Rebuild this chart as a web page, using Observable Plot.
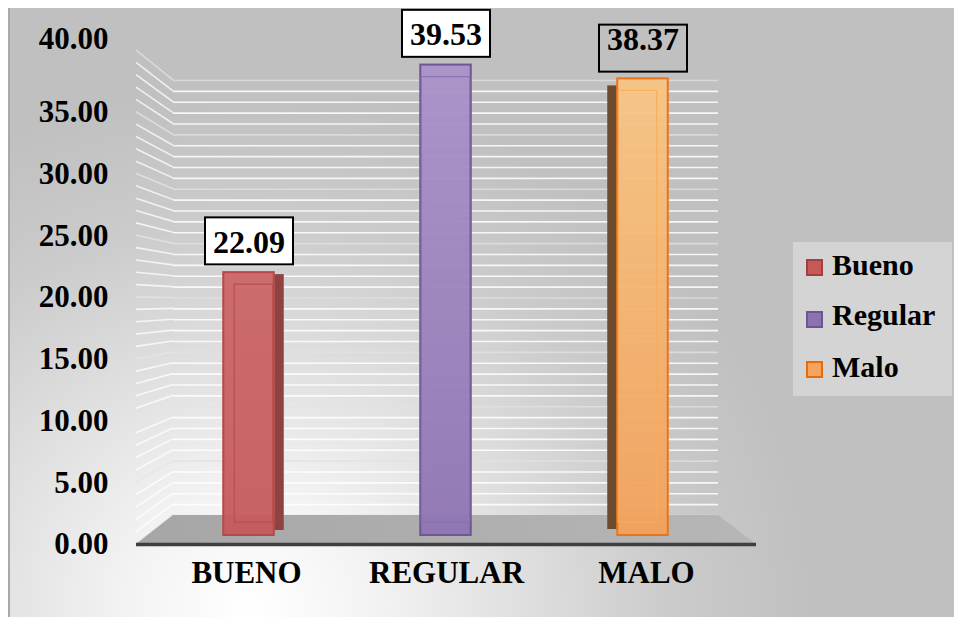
<!DOCTYPE html>
<html>
<head>
<meta charset="utf-8">
<script src="https://cdn.jsdelivr.net/npm/d3@7"></script>
<script src="https://cdn.jsdelivr.net/npm/@observablehq/plot@0.6"></script>
<style>
  body { margin: 0; background: #ffffff; }
  #chart { position: relative; width: 954px; height: 619px; overflow: hidden; font-family: "Liberation Serif", "Times New Roman", serif; }
  #bg { position: absolute; left: 8px; top: 8px; width: 946px; height: 609px; box-sizing: border-box; border-left: 2px solid #a9a9a9;
        background: radial-gradient(ellipse 560px 520px at 240px 600px, #ffffff 0%, #f3f3f3 22%, #dedede 50%, #cbcbcb 75%, #c0c0c0 100%); }
  .layer { position: absolute; left: 0; top: 0; }
  #legend { position: absolute; left: 793px; top: 242px; width: 159px; height: 154px; background: #d4d4d4; }
  .sw { position: absolute; left: 13px; width: 13px; height: 13px; border: 2px solid; }
  .lt { position: absolute; left: 39px; font-size: 30px; line-height: 30px; font-weight: bold; color: #000; white-space: nowrap; }
</style>
</head>
<body>
<div id="chart">
  <div id="bg"></div>
  <div id="legend"></div>
</div>
<script>
// ---- data ----
const categories = ["BUENO", "REGULAR", "MALO"];
const seriesNames = ["Bueno", "Regular", "Malo"];
const values = [22.09, 39.53, 38.37];
const yTicks = [0, 5, 10, 15, 20, 25, 30, 35, 40];
const gridValues = d3.range(0, 41, 1);

// ---- styles ----
const W = 954, H = 619;
const font = "Liberation Serif, Times New Roman, serif";
const topFill = {Bueno: "#cb6665", Regular: "#a992c9", Malo: "#f7c584"};
const botFill = {Bueno: "#c55a5a", Regular: "#8e74b3", Malo: "#f2a15b"};
const edge = {Bueno: "#b5494a", Regular: "#6e5794", Malo: "#ec7418"};
const inner = {Bueno: "#b54e4e", Regular: "#8a70ad", Malo: "#f9ab55"};
const sideFill = {Bueno: "#8e4242", Malo: "#6c4b2e"};
const depth = {Bueno: 10, Regular: 0, Malo: -10};
const legendFill = {Bueno: "#c65a59", Regular: "#8d72b1", Malo: "#f5a35f"};
const legendEdge = {Bueno: "#a43f3e", Regular: "#6c568f", Malo: "#e46c0a"};

const barData = categories.map((c, i) => ({category: c, name: seriesNames[i], value: values[i]}));
const chart = document.getElementById("chart");
const legendEl = document.getElementById("legend");

// ---- back wall (minor gridlines) ----
const wall = Plot.plot({
  width: W, height: H,
  marginLeft: 173, marginRight: W - 718, marginTop: 80, marginBottom: H - 515,
  y: {domain: [0, 40], axis: null},
  style: {background: "transparent", overflow: "visible"},
  marks: [
    Plot.ruleY(gridValues.filter(v => v % 5 !== 0), {stroke: "#ffffff", strokeOpacity: 0.85, strokeWidth: 1.6}),
    Plot.ruleY(yTicks, {stroke: "#e2e2e2", strokeOpacity: 0.75, strokeWidth: 1.6})
  ]
});
wall.classList.add("layer");
chart.insertBefore(wall, legendEl);

// ---- front plane (axis labels, baseline) ----
const front = Plot.plot({
  width: W, height: H,
  marginLeft: 136, marginRight: W - 756, marginTop: 50, marginBottom: H - 544,
  x: {type: "band", domain: categories, axis: null},
  y: {domain: [0, 40], axis: null},
  style: {background: "transparent", overflow: "visible"},
  marks: [
    Plot.text(yTicks.filter(v => v < 40), {y: d => d, text: d => d.toFixed(2), frameAnchor: "left", textAnchor: "end", dx: -28,
      fontSize: 31, fontWeight: "bold", fontFamily: font, fill: "#000"}),
    Plot.text(yTicks.filter(v => v === 40), {y: d => d, text: d => d.toFixed(2), frameAnchor: "left", textAnchor: "end", dx: -28, dy: -11,
      fontSize: 31, fontWeight: "bold", fontFamily: font, fill: "#000"}),
    Plot.text(categories, {x: d => d, text: d => d, frameAnchor: "bottom", dy: 38,
      fontSize: 31, fontWeight: "bold", fontFamily: font, fill: "#000"}),
    Plot.ruleY([0], {stroke: "#3f3f3f", strokeWidth: 3.5})
  ]
});

// side wall lines + floor, drawn in the wall layer from both scales
{
  const yF = front.scale("y"), yB = wall.scale("y"), xF = front.scale("x");
  const xF0 = xF.range[0], xF1 = xF.range[1];
  const xB0 = 173, xB1 = 718;
  const g = d3.select(wall).append("g");
  const defs = d3.select(wall).append("defs");
  const fg = defs.append("linearGradient").attr("id", "floorGrad").attr("x1", 0).attr("x2", 1);
  fg.append("stop").attr("offset", 0).attr("stop-color", "#a6a6a6");
  fg.append("stop").attr("offset", 1).attr("stop-color", "#b6b6b6");
  g.selectAll("line").data(gridValues).join("line")
    .attr("x1", xF0).attr("y1", d => yF.apply(d))
    .attr("x2", xB0).attr("y2", d => yB.apply(d))
    .attr("stroke", d => d % 5 === 0 ? "#e6e6e6" : "#ffffff")
    .attr("stroke-opacity", 0.75).attr("stroke-width", 1.6);
  g.append("polygon")
    .attr("points", [[xF0, yF.apply(0)], [xB0, yB.apply(0)], [xB1, yB.apply(0)], [xF1, yF.apply(0)]].map(p => p.join(",")).join(" "))
    .attr("fill", "url(#floorGrad)");
}

// ---- bars ----
const band = 197.5, barW = 51, inset = (band - barW) / 2;
const barMarks = [];
for (const d of barData) {
  const one = [d];
  if (depth[d.name] > 0) {
    barMarks.push(Plot.barY(one, {x: "category", y: "value", fill: sideFill[d.name],
      insetLeft: inset + barW, insetRight: inset - depth[d.name], insetTop: 2, insetBottom: 5}));
  } else if (depth[d.name] < 0) {
    barMarks.push(Plot.barY(one, {x: "category", y: "value", fill: sideFill[d.name],
      insetLeft: inset + depth[d.name], insetRight: inset + barW, insetTop: 7, insetBottom: 6}));
  }
  barMarks.push(Plot.barY(one, {x: "category", y: "value", fill: `url(#grad-${d.name})`, fillOpacity: 0.95,
    stroke: edge[d.name], strokeWidth: 2, insetLeft: inset, insetRight: inset}));
  barMarks.push(Plot.barY(one, {x: "category", y: "value", fill: "none", stroke: inner[d.name], strokeWidth: 1.2, strokeOpacity: 0.9,
    insetLeft: inset + Math.max(depth[d.name], 0) + 1, insetRight: inset - Math.min(depth[d.name], 0) + 1, insetTop: 12, insetBottom: 13}));
}
const bars = Plot.plot({
  width: W, height: H,
  marginLeft: 148.75, marginRight: W - 741.25, marginTop: 59, marginBottom: H - 535,
  x: {type: "band", domain: categories, padding: 0, axis: null},
  y: {domain: [0, 40], axis: null},
  style: {background: "transparent", overflow: "visible"},
  marks: [
    ...barMarks,
    Plot.text(barData.filter(d => d.name !== "Malo"), {x: "category", y: "value", text: d => d.value.toFixed(2), dy: -30,
      fontSize: 32, fontWeight: "bold", fontFamily: font, fill: "#000"}),
    Plot.text(barData.filter(d => d.name === "Malo"), {x: "category", y: "value", text: d => d.value.toFixed(2), dy: -39,
      fontSize: 32, fontWeight: "bold", fontFamily: font, fill: "#000"})
  ]
});
{
  const defs = d3.select(bars).append("defs");
  for (const n of seriesNames) {
    const lg = defs.append("linearGradient").attr("id", `grad-${n}`).attr("x1", 0).attr("x2", 0).attr("y1", 0).attr("y2", 1);
    lg.append("stop").attr("offset", 0).attr("stop-color", topFill[n]);
    lg.append("stop").attr("offset", 1).attr("stop-color", botFill[n]);
  }
}
bars.classList.add("layer");
chart.insertBefore(bars, legendEl);
front.classList.add("layer");
chart.insertBefore(front, legendEl);

// value label boxes
{
  const texts = d3.select(bars).selectAll('g[aria-label="text"] text').nodes();
  for (const t of texts) {
    const bb = t.getBBox();
    const isMalo = t.textContent === values[2].toFixed(2);
    const cx = bb.x + bb.width / 2, cy = bb.y + bb.height / 2 + (isMalo ? 9 : -1);
    const tr = t.getAttribute("transform");
    d3.select(t.parentNode).insert("rect", () => t)
      .attr("transform", tr)
      .attr("x", cx - 44).attr("y", cy - 23.5).attr("width", 88).attr("height", 47)
      .attr("fill", isMalo ? "none" : "#ffffff").attr("stroke", "#000").attr("stroke-width", 2);
  }
}

// ---- legend ----
const swTop = [17, 69, 119];
const txtTop = [8, 58, 110];
seriesNames.forEach((n, i) => {
  const s = document.createElement("div");
  s.className = "sw"; s.style.top = swTop[i] + "px";
  s.style.background = legendFill[n]; s.style.borderColor = legendEdge[n];
  legendEl.appendChild(s);
  const t = document.createElement("div");
  t.className = "lt"; t.style.top = txtTop[i] + "px"; t.textContent = n;
  legendEl.appendChild(t);
});
</script>
</body>
</html>
